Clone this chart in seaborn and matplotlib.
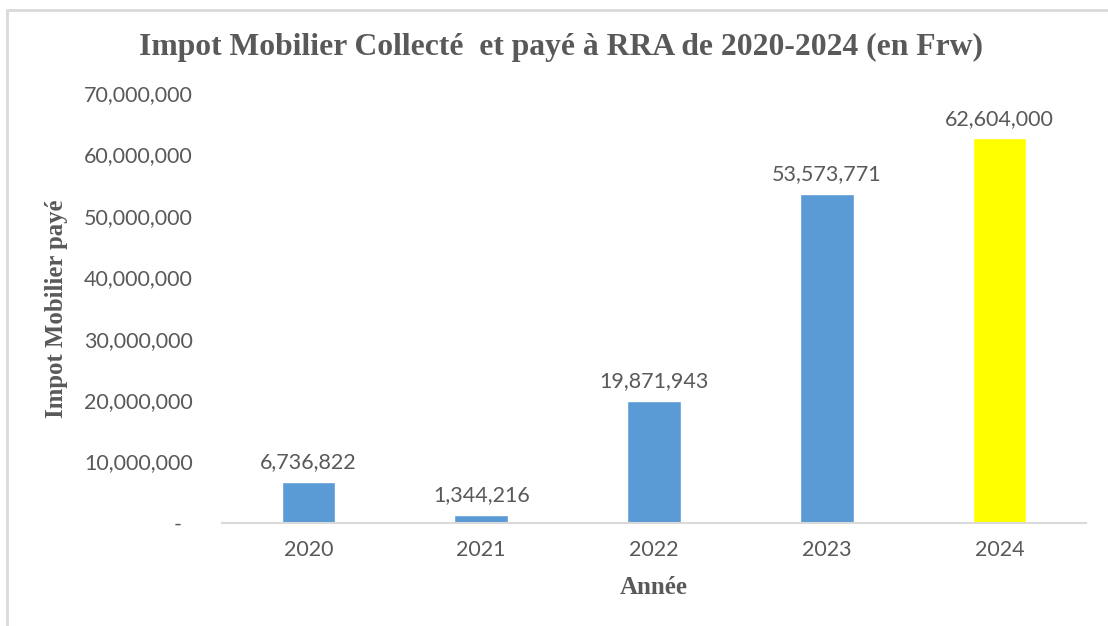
import numpy as np
import pandas as pd
import matplotlib.pyplot as plt
import seaborn as sns
import matplotlib.ticker as ticker
from matplotlib.patches import Rectangle

years = ["2020", "2021", "2022", "2023", "2024"]
montants = [6736822, 1344216, 19871943, 53573771, 62604000]
couleurs = ["#5B9BD5", "#5B9BD5", "#5B9BD5", "#5B9BD5", "#FFFF00"]

titre = "Impot Mobilier Collecté  et payé à RRA de 2020-2024 (en Frw)"
xlab = "Année"
ylab = "Impot Mobilier payé"

GRIS = "#595959"

sns.set_style("white")
plt.rcParams["font.family"] = ["Lato", "DejaVu Sans"]

df = pd.DataFrame({"Annee": years, "Montant": montants})

fig = plt.figure(figsize=(11.08, 6.26), dpi=100)
ax = fig.add_axes([222/1108, 1-523/626, (1086-222)/1108, (523-93)/626])

sns.barplot(data=df, x="Annee", y="Montant", hue="Annee", palette=couleurs,
            legend=False, width=0.31, saturation=1, ax=ax)

for c in ax.containers:
    ax.bar_label(c, labels=[f"{v:,.0f}" for v in c.datavalues], padding=7,
                 fontsize=15.5, color=GRIS)

ax.set_ylim(0, 70000000)
ax.set_xlim(-0.5, 4.5)
ax.yaxis.set_major_locator(ticker.MultipleLocator(10000000))
ax.yaxis.set_major_formatter(ticker.FuncFormatter(
    lambda v, p: "-  " if v == 0 else f"{v:,.0f}"))
ax.tick_params(axis="y", length=0, pad=21, labelsize=15.5, labelcolor=GRIS)
ax.tick_params(axis="x", length=0, pad=12, labelsize=15.5, labelcolor=GRIS)

for s in ["top", "right", "left"]:
    ax.spines[s].set_visible(False)
ax.spines["bottom"].set_color("#D9D9D9")
ax.spines["bottom"].set_linewidth(1.5)

ax.set_xlabel(xlab, fontsize=18, fontweight="bold", family="Liberation Serif",
              color=GRIS, labelpad=12)
ax.set_ylabel("")
fig.text(57/1108, 1-309/626, ylab, rotation=90, ha="center", va="center",
         fontsize=17.8, fontweight="bold", family="Liberation Serif", color=GRIS)
fig.text(561/1108, 1-47/626, titre, ha="center", va="center",
         fontsize=22.8, fontweight="bold", family="Liberation Serif", color=GRIS)

# cadre du graphique (coupé à droite et en bas)
fig.add_artist(Rectangle((7/1108, -0.1), 1.2, 1.1 - 10/626,
                         transform=fig.transFigure, fill=False,
                         edgecolor="#D9D9D9", linewidth=2))

fig.savefig("out.png", dpi=100)
